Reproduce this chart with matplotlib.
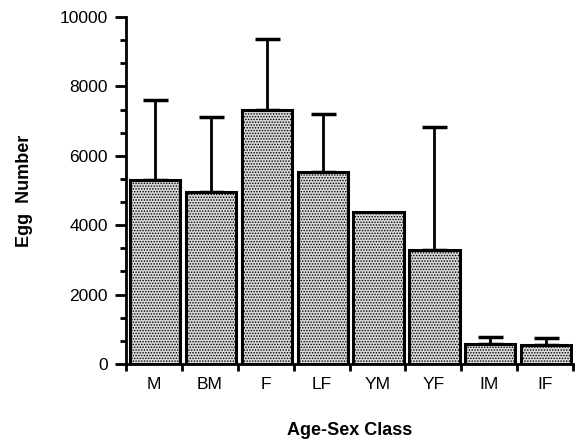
import numpy as np
import matplotlib
matplotlib.use("Agg")
import matplotlib.pyplot as plt
from matplotlib.ticker import MultipleLocator

classes = ["M", "BM", "F", "LF", "YM", "YF", "IM", "IF"]
eggs = [5300, 4950, 7330, 5520, 4380, 3280, 570, 550]
upper = [7620, 7130, 9360, 7200, 4380, 6820, 790, 760]

plt.rcParams['font.family'] = ['Liberation Sans', 'DejaVu Sans']
plt.rcParams['hatch.color'] = '#6e6e6e'
plt.rcParams['hatch.linewidth'] = 0.7

fig = plt.figure(figsize=(5.81, 4.41), dpi=100)
ax = fig.add_axes([0.2169, 0.1746, 0.7694, 0.7868])

n = len(classes)
x = np.arange(n) + 0.5
err = np.array(upper) - np.array(eggs)

ax.bar(x + 0.02, eggs, width=0.9, facecolor='#d8d8d8', edgecolor='black',
       linewidth=2.2, hatch='......', zorder=2)
# only the upper half of each bar has a whisker, and YM has none
has_err = err > 0
ax.errorbar((x + 0.02)[has_err], np.array(eggs)[has_err],
            yerr=[np.zeros(has_err.sum()), err[has_err]], fmt='none',
            ecolor='black', elinewidth=2, capsize=9, capthick=2.5, zorder=1)

ax.set_xlim(0, n)
ax.set_ylim(0, 10000)
for s in ['top', 'right']:
    ax.spines[s].set_visible(False)
for s in ['left', 'bottom']:
    ax.spines[s].set_linewidth(2)

ax.yaxis.set_major_locator(MultipleLocator(2000))
ax.yaxis.set_minor_locator(MultipleLocator(2000 / 3))
ax.tick_params(axis='y', which='major', length=8, width=2, labelsize=12.5, pad=5)
ax.tick_params(axis='y', which='minor', length=4, width=2)

# category boundaries carry the ticks, names sit in the middle
ax.set_xticks(np.arange(n + 1))
ax.set_xticklabels([])
ax.set_xticks(x, minor=True)
ax.set_xticklabels(classes, minor=True)
ax.tick_params(axis='x', which='major', length=5, width=2)
ax.tick_params(axis='x', which='minor', length=0, labelsize=12.5, pad=9)

ax.set_xlabel("Age-Sex Class", fontsize=13, fontweight='bold', labelpad=22)
ax.set_ylabel("Egg  Number", fontsize=13, fontweight='bold', labelpad=19)

fig.savefig("out.png", dpi=100)
